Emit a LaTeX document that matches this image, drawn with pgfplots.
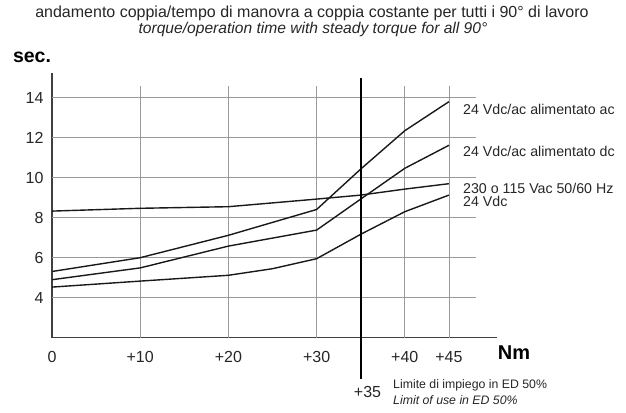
\documentclass[border=0pt]{standalone}
\usepackage{pgfplots}
\pgfplotsset{compat=1.18}
\usepackage{fontspec}
\setmainfont{Liberation Sans}
\begin{document}
\begin{tikzpicture}
\useasboundingbox (-52pt,-74.3pt) rectangle (574pt,337.7pt);
\begin{axis}[
  x=8.82pt, y=20pt,
  xmin=0, xmax=50.5, ymin=2, ymax=15.25,
  axis lines=left,
  axis line style={-, line width=1.1pt, color=black!75},
  xtick={0,10,20,30,40,45}, xticklabels={0,+10,+20,+30,+40,+45},
  ytick={4,6,8,10,12,14},
  major tick length=0pt,
  tick label style={font=\fontsize{16}{18}\selectfont, text=black!85},
  /pgf/number format/assume math mode=true,
  xticklabel style={yshift=-10pt},
  yticklabel style={xshift=-5pt},
  clip=false,
]
% grid
\draw[black!40, line width=0.8pt] (axis cs:10,2) -- (axis cs:10,14.58);
\draw[black!40, line width=0.8pt] (axis cs:20,2) -- (axis cs:20,14.58);
\draw[black!40, line width=0.8pt] (axis cs:30,2) -- (axis cs:30,14.58);
\draw[black!40, line width=0.8pt] (axis cs:40,2) -- (axis cs:40,14.58);
\draw[black!40, line width=0.8pt] (axis cs:45,2) -- (axis cs:45,14.58);
\draw[black!40, line width=0.8pt] (axis cs:0,4) -- (axis cs:48.07,4);
\draw[black!40, line width=0.8pt] (axis cs:0,6) -- (axis cs:48.07,6);
\draw[black!40, line width=0.8pt] (axis cs:0,8) -- (axis cs:48.07,8);
\draw[black!40, line width=0.8pt] (axis cs:0,10) -- (axis cs:48.07,10);
\draw[black!40, line width=0.8pt] (axis cs:0,12) -- (axis cs:48.07,12);
\draw[black!40, line width=0.8pt] (axis cs:0,14) -- (axis cs:48.07,14);
% curves
\addplot[black!90, line width=1.4pt] coordinates {(0,8.33) (10,8.47) (20,8.55) (30,8.93) (35,9.13) (40,9.43) (45,9.7)};
\addplot[black!90, line width=1.4pt] coordinates {(0,5.31) (10,6.0) (20,7.12) (30,8.41) (35,10.43) (40,12.35) (45,13.8)};
\addplot[black!90, line width=1.4pt] coordinates {(0,4.9) (10,5.49) (20,6.58) (30,7.38) (35,8.93) (40,10.47) (45,11.62)};
\addplot[black!90, line width=1.4pt] coordinates {(0,4.53) (10,4.83) (20,5.12) (25,5.45) (30,5.95) (35,7.17) (40,8.3) (45,9.13)};
% limit line
\draw[black, line width=1.6pt] (axis cs:35,-0.065) -- (axis cs:35,14.98);
\end{axis}
% texts
\node[anchor=base, inner sep=0pt, font=\fontsize{16}{18}\selectfont, text=black!85] at (260pt,320.2pt) {andamento coppia/tempo di manovra a coppia costante per tutti i 90° di lavoro};
\node[anchor=base, inner sep=0pt, font=\fontsize{15.6}{18}\selectfont\itshape, text=black!85] at (261pt,304.4pt) {torque/operation time with steady torque for all 90°};
\node[font=\fontsize{19.5}{21}\selectfont\bfseries] at (-20pt,280.2pt) {sec.};
\node[font=\fontsize{20}{22}\selectfont\bfseries] at (462pt,-14.8pt) {Nm};
\node[font=\fontsize{16}{18}\selectfont, text=black!85] at (315.5pt,-54.3pt) {+35};
\node[anchor=base west, inner sep=0pt, font=\fontsize{14.2}{16}\selectfont, text=black!85] at (411pt,222.7pt) {24 Vdc/ac alimentato ac};
\node[anchor=base west, inner sep=0pt, font=\fontsize{14.2}{16}\selectfont, text=black!85] at (411pt,181pt) {24 Vdc/ac alimentato dc};
\node[anchor=base west, inner sep=0pt, font=\fontsize{14.2}{16}\selectfont, text=black!85] at (411pt,144.6pt) {230 o 115 Vac 50/60 Hz};
\node[anchor=base west, inner sep=0pt, font=\fontsize{14.2}{16}\selectfont, text=black!85] at (411pt,131.6pt) {24 Vdc};
\node[anchor=west, inner sep=0pt, font=\fontsize{12.3}{14}\selectfont, text=black!85] at (341pt,-48pt) {Limite di impiego in ED 50\%};
\node[anchor=west, inner sep=0pt, font=\fontsize{12.3}{14}\selectfont\itshape, text=black!85] at (341pt,-62.3pt) {Limit of use in ED 50\%};
\end{tikzpicture}
\end{document}
